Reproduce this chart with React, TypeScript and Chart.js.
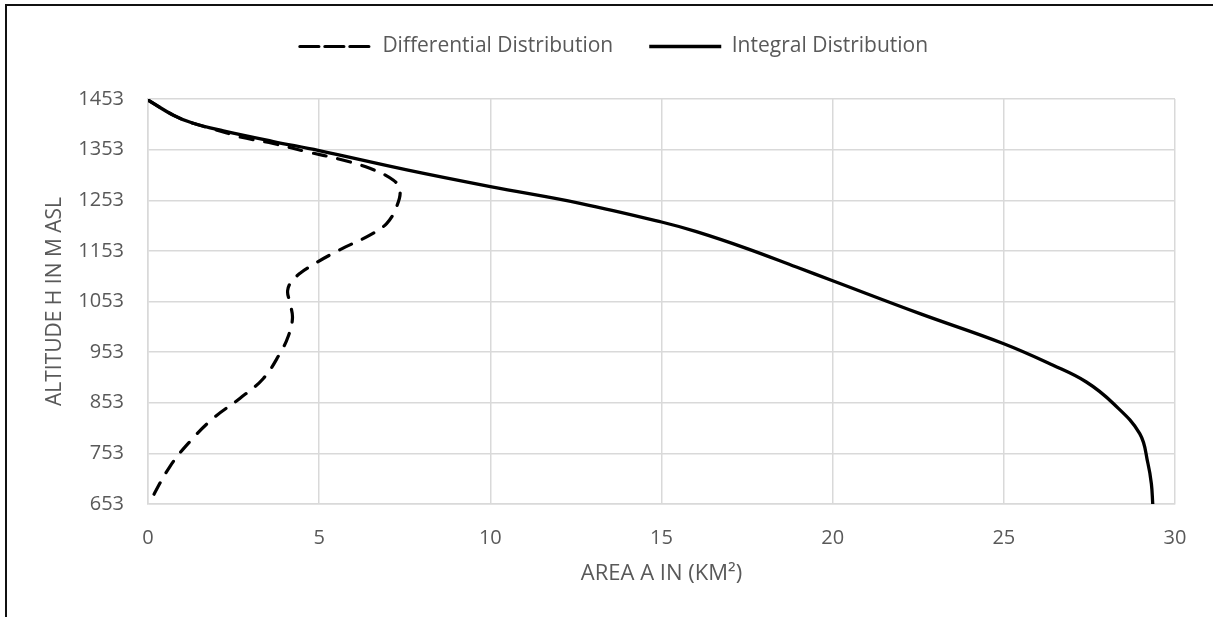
import React, { useEffect, useRef } from "react";
import { Chart, registerables } from "chart.js";

Chart.register(...registerables);

// Tick labels
const xTicks = [0, 5, 10, 15, 20, 25, 30];
const yTicks = [653, 753, 853, 953, 1053, 1153, 1253, 1353, 1453];

// Series: Integral distribution (area km², altitude m asl)
const integralArea = [0, 0.74, 1.32, 2.2, 3.66, 5, 7.56, 10, 12.62, 15, 16.02, 17.48, 18.94, 20, 22.55, 24.98, 26.44, 27.41, 28.19, 28.97, 29.21, 29.31, 29.35];
const integralAlt = [1451, 1421, 1405, 1390, 1369, 1351, 1313, 1280, 1247, 1210, 1191, 1158, 1121, 1094, 1029, 970, 927, 894, 852, 792, 733, 693, 653];

// Series: Differential distribution
const diffArea = [0, 0.74, 1.32, 2.2, 2.69, 3.66, 4.63, 5.6, 6.48, 7.16, 7.36, 7.26, 6.97, 6.48, 5.6, 4.73, 4.25, 4.08, 4.15, 4.22, 4.1, 3.85, 3.37, 2.69, 1.9, 1.22, 0.64, 0.02];
const diffAlt = [1451, 1421, 1405, 1388, 1378, 1365, 1349, 1334, 1316, 1293, 1273, 1240, 1207, 1184, 1155, 1122, 1097, 1075, 1050, 1020, 985, 950, 901, 862, 822, 776, 727, 653];

const labels = ["Differential Distribution", "Integral Distribution"];
const xTitle = "AREA A IN (KM²)";
const yTitle = "ALTITUDE H IN M ASL";

const FAMILY = "'Open Sans', 'Noto Sans', sans-serif";
const TEXT = "#595959";
const GRID = "#d9d9d9";

export default function App() {
  const ref = useRef<HTMLCanvasElement>(null);

  useEffect(() => {
    document.body.style.margin = "0";
    const tickFont = { family: FAMILY, size: 20 };
    const chart = new Chart(ref.current!, {
      type: "scatter",
      data: {
        datasets: [
          {
            label: labels[0],
            data: diffArea.map((x, i) => ({ x, y: diffAlt[i] })),
            showLine: true,
            borderColor: "#000",
            backgroundColor: "#000",
            borderWidth: 3.2,
            borderDash: [13, 12],
            borderCapStyle: "round",
            pointRadius: 0,
            tension: 0.4,
          },
          {
            label: labels[1],
            data: integralArea.map((x, i) => ({ x, y: integralAlt[i] })),
            showLine: true,
            borderColor: "#000",
            backgroundColor: "#000",
            borderWidth: 3.3,
            pointRadius: 0,
            tension: 0.4,
          },
        ],
      },
      options: {
        responsive: false,
        animation: false,
        layout: { padding: { left: 53, right: 38, top: 0, bottom: 0 } },
        plugins: {
          legend: {
            position: "top",
            labels: {
              boxWidth: 72,
              boxHeight: 0,
              color: TEXT,
              font: { family: FAMILY, size: 21 },
              padding: 36,
            },
          },
          subtitle: {
            display: true,
            text: "",
            weight: 500,
            font: { size: 10, lineHeight: 1 },
            padding: { top: 0, bottom: 22 },
          },
          tooltip: { enabled: false },
        },
        scales: {
          x: {
            type: "linear",
            min: 0,
            max: 30,
            afterBuildTicks: (s: any) => {
              s.ticks = xTicks.map((v) => ({ value: v }));
            },
            afterFit: (s: any) => {
              s.height = 113;
            },
            grid: { color: GRID, lineWidth: 1.5, drawTicks: false },
            border: { color: GRID, width: 1.5 },
            ticks: { color: TEXT, font: tickFont, padding: 22, maxRotation: 0 },
            title: {
              display: true,
              text: xTitle,
              color: TEXT,
              font: { family: FAMILY, size: 22 },
              padding: { top: 0, bottom: 30 },
            },
          },
          y: {
            type: "linear",
            min: 653,
            max: 1453,
            afterBuildTicks: (s: any) => {
              s.ticks = yTicks.map((v) => ({ value: v }));
            },
            afterFit: (s: any) => {
              s.width = 95;
            },
            grid: { color: GRID, lineWidth: 1.5, drawTicks: false },
            border: { color: GRID, width: 1.5 },
            ticks: { color: TEXT, font: tickFont, padding: 24, callback: (v: any) => String(v) },
            title: {
              display: true,
              text: yTitle,
              color: TEXT,
              font: { family: FAMILY, size: 21, lineHeight: 1 },
              padding: { top: -8.5, bottom: 0 },
            },
          },
        },
      },
    } as any);
    return () => chart.destroy();
  }, []);

  return (
    <div style={{ position: "fixed", left: 0, top: 0, width: 1213, height: 617, background: "#fff" }}>
      <canvas ref={ref} width={1213} height={617} style={{ display: "block" }} />
      <div
        style={{
          position: "absolute",
          left: 5,
          top: 4,
          right: 0,
          bottom: 0,
          borderTop: "2px solid #111",
          borderLeft: "2px solid #111",
          pointerEvents: "none",
        }}
      />
    </div>
  );
}
